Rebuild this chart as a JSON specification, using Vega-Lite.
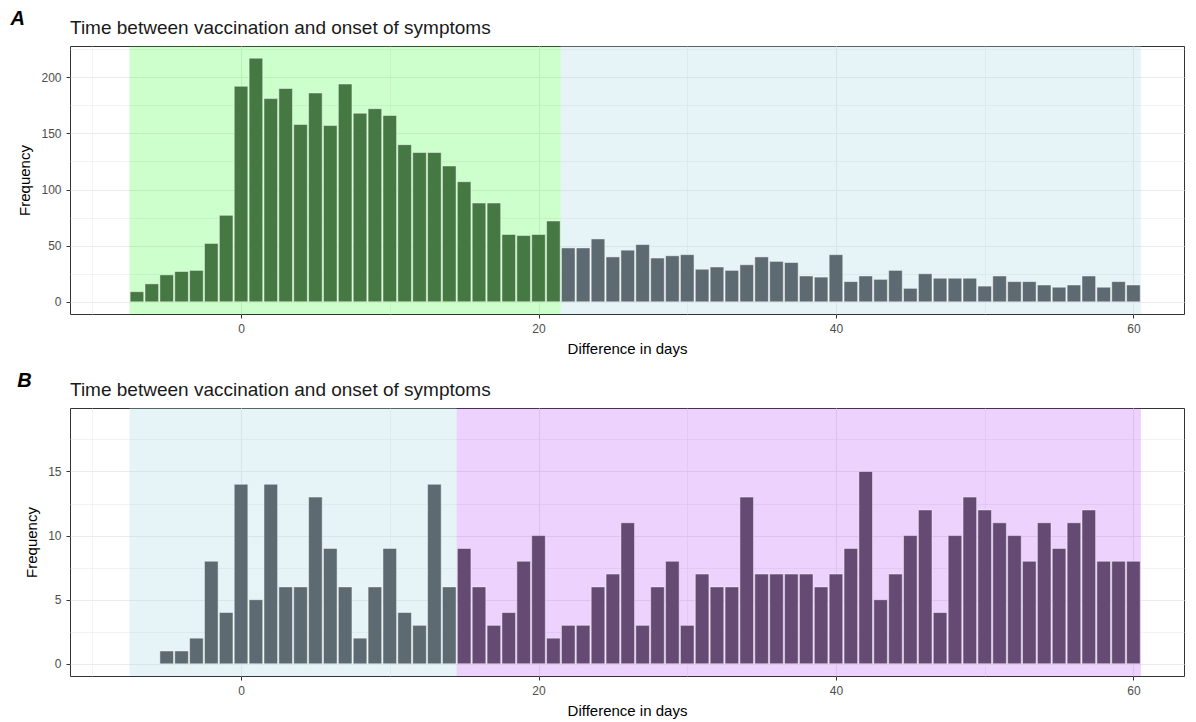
{
  "$schema": "https://vega.github.io/schema/vega-lite/v6.json",
  "background": "white",
  "padding": {"left": 10, "top": 8, "right": 0, "bottom": 0},
  "spacing": 13,
  "resolve": {"scale": {"fill": "independent", "color": "independent"}},
  "config": {
    "font": "Liberation Sans",
    "view": {"stroke": "#333333", "strokeWidth": 1},
    "axis": {
      "domain": false,
      "labelColor": "#4d4d4d",
      "labelFontSize": 12,
      "labelFont": "Liberation Sans",
      "tickColor": "#333333",
      "tickSize": 4,
      "labelPadding": 5,
      "titleFont": "Liberation Sans",
      "titleFontSize": 15,
      "titleFontWeight": "normal",
      "titleColor": "#000000",
      "gridColor": "#ebebeb"
    },
    "axisX": {"titlePadding": 7},
    "axisY": {"titlePadding": 8},
    "title": {"font": "Liberation Sans", "color": "#1a1a1a"}
  },
  "datasets": {
    "zonesA": [
      {"from": -7.5, "to": 21.5, "period": "A: within 21 days"},
      {"from": 21.5, "to": 60.5, "period": "A: after 21 days"}
    ],
    "zonesB": [
      {"from": -7.5, "to": 14.5, "period": "B: within 14 days"},
      {"from": 14.5, "to": 60.5, "period": "B: after 14 days"}
    ],
    "countsA": [
      {"day": -7, "count": 9, "period": "A: within 21 days"},
      {"day": -6, "count": 16, "period": "A: within 21 days"},
      {"day": -5, "count": 24, "period": "A: within 21 days"},
      {"day": -4, "count": 27, "period": "A: within 21 days"},
      {"day": -3, "count": 28, "period": "A: within 21 days"},
      {"day": -2, "count": 52, "period": "A: within 21 days"},
      {"day": -1, "count": 77, "period": "A: within 21 days"},
      {"day": 0, "count": 192, "period": "A: within 21 days"},
      {"day": 1, "count": 217, "period": "A: within 21 days"},
      {"day": 2, "count": 181, "period": "A: within 21 days"},
      {"day": 3, "count": 190, "period": "A: within 21 days"},
      {"day": 4, "count": 158, "period": "A: within 21 days"},
      {"day": 5, "count": 186, "period": "A: within 21 days"},
      {"day": 6, "count": 157, "period": "A: within 21 days"},
      {"day": 7, "count": 194, "period": "A: within 21 days"},
      {"day": 8, "count": 168, "period": "A: within 21 days"},
      {"day": 9, "count": 172, "period": "A: within 21 days"},
      {"day": 10, "count": 166, "period": "A: within 21 days"},
      {"day": 11, "count": 140, "period": "A: within 21 days"},
      {"day": 12, "count": 133, "period": "A: within 21 days"},
      {"day": 13, "count": 133, "period": "A: within 21 days"},
      {"day": 14, "count": 121, "period": "A: within 21 days"},
      {"day": 15, "count": 107, "period": "A: within 21 days"},
      {"day": 16, "count": 88, "period": "A: within 21 days"},
      {"day": 17, "count": 88, "period": "A: within 21 days"},
      {"day": 18, "count": 60, "period": "A: within 21 days"},
      {"day": 19, "count": 59, "period": "A: within 21 days"},
      {"day": 20, "count": 60, "period": "A: within 21 days"},
      {"day": 21, "count": 72, "period": "A: within 21 days"},
      {"day": 22, "count": 48, "period": "A: after 21 days"},
      {"day": 23, "count": 48, "period": "A: after 21 days"},
      {"day": 24, "count": 56, "period": "A: after 21 days"},
      {"day": 25, "count": 40, "period": "A: after 21 days"},
      {"day": 26, "count": 46, "period": "A: after 21 days"},
      {"day": 27, "count": 51, "period": "A: after 21 days"},
      {"day": 28, "count": 39, "period": "A: after 21 days"},
      {"day": 29, "count": 41, "period": "A: after 21 days"},
      {"day": 30, "count": 42, "period": "A: after 21 days"},
      {"day": 31, "count": 29, "period": "A: after 21 days"},
      {"day": 32, "count": 31, "period": "A: after 21 days"},
      {"day": 33, "count": 28, "period": "A: after 21 days"},
      {"day": 34, "count": 33, "period": "A: after 21 days"},
      {"day": 35, "count": 40, "period": "A: after 21 days"},
      {"day": 36, "count": 36, "period": "A: after 21 days"},
      {"day": 37, "count": 35, "period": "A: after 21 days"},
      {"day": 38, "count": 23, "period": "A: after 21 days"},
      {"day": 39, "count": 22, "period": "A: after 21 days"},
      {"day": 40, "count": 42, "period": "A: after 21 days"},
      {"day": 41, "count": 18, "period": "A: after 21 days"},
      {"day": 42, "count": 23, "period": "A: after 21 days"},
      {"day": 43, "count": 20, "period": "A: after 21 days"},
      {"day": 44, "count": 28, "period": "A: after 21 days"},
      {"day": 45, "count": 12, "period": "A: after 21 days"},
      {"day": 46, "count": 25, "period": "A: after 21 days"},
      {"day": 47, "count": 21, "period": "A: after 21 days"},
      {"day": 48, "count": 21, "period": "A: after 21 days"},
      {"day": 49, "count": 21, "period": "A: after 21 days"},
      {"day": 50, "count": 14, "period": "A: after 21 days"},
      {"day": 51, "count": 23, "period": "A: after 21 days"},
      {"day": 52, "count": 18, "period": "A: after 21 days"},
      {"day": 53, "count": 18, "period": "A: after 21 days"},
      {"day": 54, "count": 15, "period": "A: after 21 days"},
      {"day": 55, "count": 13, "period": "A: after 21 days"},
      {"day": 56, "count": 15, "period": "A: after 21 days"},
      {"day": 57, "count": 23, "period": "A: after 21 days"},
      {"day": 58, "count": 13, "period": "A: after 21 days"},
      {"day": 59, "count": 18, "period": "A: after 21 days"},
      {"day": 60, "count": 15, "period": "A: after 21 days"}
    ],
    "countsB": [
      {"day": -5, "count": 1, "period": "B: within 14 days"},
      {"day": -4, "count": 1, "period": "B: within 14 days"},
      {"day": -3, "count": 2, "period": "B: within 14 days"},
      {"day": -2, "count": 8, "period": "B: within 14 days"},
      {"day": -1, "count": 4, "period": "B: within 14 days"},
      {"day": 0, "count": 14, "period": "B: within 14 days"},
      {"day": 1, "count": 5, "period": "B: within 14 days"},
      {"day": 2, "count": 14, "period": "B: within 14 days"},
      {"day": 3, "count": 6, "period": "B: within 14 days"},
      {"day": 4, "count": 6, "period": "B: within 14 days"},
      {"day": 5, "count": 13, "period": "B: within 14 days"},
      {"day": 6, "count": 9, "period": "B: within 14 days"},
      {"day": 7, "count": 6, "period": "B: within 14 days"},
      {"day": 8, "count": 2, "period": "B: within 14 days"},
      {"day": 9, "count": 6, "period": "B: within 14 days"},
      {"day": 10, "count": 9, "period": "B: within 14 days"},
      {"day": 11, "count": 4, "period": "B: within 14 days"},
      {"day": 12, "count": 3, "period": "B: within 14 days"},
      {"day": 13, "count": 14, "period": "B: within 14 days"},
      {"day": 14, "count": 6, "period": "B: within 14 days"},
      {"day": 15, "count": 9, "period": "B: after 14 days"},
      {"day": 16, "count": 6, "period": "B: after 14 days"},
      {"day": 17, "count": 3, "period": "B: after 14 days"},
      {"day": 18, "count": 4, "period": "B: after 14 days"},
      {"day": 19, "count": 8, "period": "B: after 14 days"},
      {"day": 20, "count": 10, "period": "B: after 14 days"},
      {"day": 21, "count": 2, "period": "B: after 14 days"},
      {"day": 22, "count": 3, "period": "B: after 14 days"},
      {"day": 23, "count": 3, "period": "B: after 14 days"},
      {"day": 24, "count": 6, "period": "B: after 14 days"},
      {"day": 25, "count": 7, "period": "B: after 14 days"},
      {"day": 26, "count": 11, "period": "B: after 14 days"},
      {"day": 27, "count": 3, "period": "B: after 14 days"},
      {"day": 28, "count": 6, "period": "B: after 14 days"},
      {"day": 29, "count": 8, "period": "B: after 14 days"},
      {"day": 30, "count": 3, "period": "B: after 14 days"},
      {"day": 31, "count": 7, "period": "B: after 14 days"},
      {"day": 32, "count": 6, "period": "B: after 14 days"},
      {"day": 33, "count": 6, "period": "B: after 14 days"},
      {"day": 34, "count": 13, "period": "B: after 14 days"},
      {"day": 35, "count": 7, "period": "B: after 14 days"},
      {"day": 36, "count": 7, "period": "B: after 14 days"},
      {"day": 37, "count": 7, "period": "B: after 14 days"},
      {"day": 38, "count": 7, "period": "B: after 14 days"},
      {"day": 39, "count": 6, "period": "B: after 14 days"},
      {"day": 40, "count": 7, "period": "B: after 14 days"},
      {"day": 41, "count": 9, "period": "B: after 14 days"},
      {"day": 42, "count": 15, "period": "B: after 14 days"},
      {"day": 43, "count": 5, "period": "B: after 14 days"},
      {"day": 44, "count": 7, "period": "B: after 14 days"},
      {"day": 45, "count": 10, "period": "B: after 14 days"},
      {"day": 46, "count": 12, "period": "B: after 14 days"},
      {"day": 47, "count": 4, "period": "B: after 14 days"},
      {"day": 48, "count": 10, "period": "B: after 14 days"},
      {"day": 49, "count": 13, "period": "B: after 14 days"},
      {"day": 50, "count": 12, "period": "B: after 14 days"},
      {"day": 51, "count": 11, "period": "B: after 14 days"},
      {"day": 52, "count": 10, "period": "B: after 14 days"},
      {"day": 53, "count": 8, "period": "B: after 14 days"},
      {"day": 54, "count": 11, "period": "B: after 14 days"},
      {"day": 55, "count": 9, "period": "B: after 14 days"},
      {"day": 56, "count": 11, "period": "B: after 14 days"},
      {"day": 57, "count": 12, "period": "B: after 14 days"},
      {"day": 58, "count": 8, "period": "B: after 14 days"},
      {"day": 59, "count": 8, "period": "B: after 14 days"},
      {"day": 60, "count": 8, "period": "B: after 14 days"}
    ]
  },
  "vconcat": [
    {
      "title": {"text": "A", "anchor": "start", "frame": "bounds", "fontSize": 20, "fontWeight": "bold", "fontStyle": "italic", "color": "#000000", "offset": -10, "dx": -7},
      "resolve": {"scale": {"fill": "independent", "color": "independent"}},
      "vconcat": [
        {
          "title": {"text": "Time between vaccination and onset of symptoms", "anchor": "start", "frame": "group", "fontSize": 19, "fontWeight": "normal", "offset": 8},
          "width": 1114,
          "height": 268,
          "layer": [
            {
              "data": {"name": "zonesA"},
              "mark": {"type": "rect"},
              "encoding": {
                "x": {"field": "from", "type": "quantitative", "scale": {"domain": [-11.5, 63.4], "nice": false, "zero": false, "padding": 0},
                  "axis": {"title": "Difference in days", "values": [-10, 0, 10, 20, 30, 40, 50, 60],
                    "labelExpr": "datum.value % 20 === 0 ? datum.label : ''",
                    "tickOpacity": {"condition": {"test": "datum.value % 20 === 0", "value": 1}, "value": 0},
                    "gridWidth": {"condition": {"test": "datum.value % 20 === 0", "value": 1.1}, "value": 0.6}}},
                "x2": {"field": "to"},
                "fill": {"field": "period", "type": "nominal", "legend": null,
                  "scale": {"domain": ["A: within 21 days", "A: after 21 days"], "range": ["rgba(0,255,0,0.2)", "rgba(173,216,230,0.3)"]}}
              }
            },
            {
              "data": {"name": "countsA"},
              "mark": {"type": "bar", "size": 13.6, "stroke": "#ffffff", "strokeOpacity": 0.45, "strokeWidth": 1},
              "encoding": {
                "x": {"field": "day", "type": "quantitative", "scale": {"domain": [-11.5, 63.4], "nice": false, "zero": false, "padding": 0},
                  "axis": {"title": "Difference in days", "values": [-10, 0, 10, 20, 30, 40, 50, 60],
                    "labelExpr": "datum.value % 20 === 0 ? datum.label : ''",
                    "tickOpacity": {"condition": {"test": "datum.value % 20 === 0", "value": 1}, "value": 0},
                    "gridWidth": {"condition": {"test": "datum.value % 20 === 0", "value": 1.1}, "value": 0.6}}},
                "y": {"field": "count", "type": "quantitative", "scale": {"domain": [-10.85, 227.85], "nice": false, "zero": false},
                  "axis": {"title": "Frequency", "values": [0, 25, 50, 75, 100, 125, 150, 175, 200, 225],
                    "labelExpr": "datum.value % 50 === 0 ? datum.label : ''",
                    "tickOpacity": {"condition": {"test": "datum.value % 50 === 0", "value": 1}, "value": 0},
                    "gridWidth": {"condition": {"test": "datum.value % 50 === 0", "value": 1.1}, "value": 0.6}}},
                "color": {"field": "period", "type": "nominal", "legend": null,
                  "scale": {"domain": ["A: within 21 days", "A: after 21 days"], "range": ["#467843", "#5e6a71"]}}
              }
            }
          ]
        }
      ]
    },
    {
      "title": {"text": "B", "anchor": "start", "frame": "bounds", "fontSize": 20, "fontWeight": "bold", "fontStyle": "italic", "color": "#000000", "offset": -10, "dx": -7},
      "resolve": {"scale": {"fill": "independent", "color": "independent"}},
      "vconcat": [
        {
          "title": {"text": "Time between vaccination and onset of symptoms", "anchor": "start", "frame": "group", "fontSize": 19, "fontWeight": "normal", "offset": 8},
          "width": 1114,
          "height": 268,
          "layer": [
            {
              "data": {"name": "zonesB"},
              "mark": {"type": "rect"},
              "encoding": {
                "x": {"field": "from", "type": "quantitative", "scale": {"domain": [-11.5, 63.4], "nice": false, "zero": false, "padding": 0},
                  "axis": {"title": "Difference in days", "values": [-10, 0, 10, 20, 30, 40, 50, 60],
                    "labelExpr": "datum.value % 20 === 0 ? datum.label : ''",
                    "tickOpacity": {"condition": {"test": "datum.value % 20 === 0", "value": 1}, "value": 0},
                    "gridWidth": {"condition": {"test": "datum.value % 20 === 0", "value": 1.1}, "value": 0.6}}},
                "x2": {"field": "to"},
                "fill": {"field": "period", "type": "nominal", "legend": null,
                  "scale": {"domain": ["B: within 14 days", "B: after 14 days"], "range": ["rgba(173,216,230,0.3)", "rgba(160,32,240,0.2)"]}}
              }
            },
            {
              "data": {"name": "countsB"},
              "mark": {"type": "bar", "size": 13.6, "stroke": "#ffffff", "strokeOpacity": 0.45, "strokeWidth": 1},
              "encoding": {
                "x": {"field": "day", "type": "quantitative", "scale": {"domain": [-11.5, 63.4], "nice": false, "zero": false, "padding": 0},
                  "axis": {"title": "Difference in days", "values": [-10, 0, 10, 20, 30, 40, 50, 60],
                    "labelExpr": "datum.value % 20 === 0 ? datum.label : ''",
                    "tickOpacity": {"condition": {"test": "datum.value % 20 === 0", "value": 1}, "value": 0},
                    "gridWidth": {"condition": {"test": "datum.value % 20 === 0", "value": 1.1}, "value": 0.6}}},
                "y": {"field": "count", "type": "quantitative", "scale": {"domain": [-0.95, 19.95], "nice": false, "zero": false},
                  "axis": {"title": "Frequency", "values": [0, 2.5, 5, 7.5, 10, 12.5, 15, 17.5],
                    "labelExpr": "datum.value % 5 === 0 ? datum.label : ''",
                    "tickOpacity": {"condition": {"test": "datum.value % 5 === 0", "value": 1}, "value": 0},
                    "gridWidth": {"condition": {"test": "datum.value % 5 === 0", "value": 1.1}, "value": 0.6}}},
                "color": {"field": "period", "type": "nominal", "legend": null,
                  "scale": {"domain": ["B: within 14 days", "B: after 14 days"], "range": ["#5e6a71", "#654a74"]}}
              }
            }
          ]
        }
      ]
    }
  ]
}
